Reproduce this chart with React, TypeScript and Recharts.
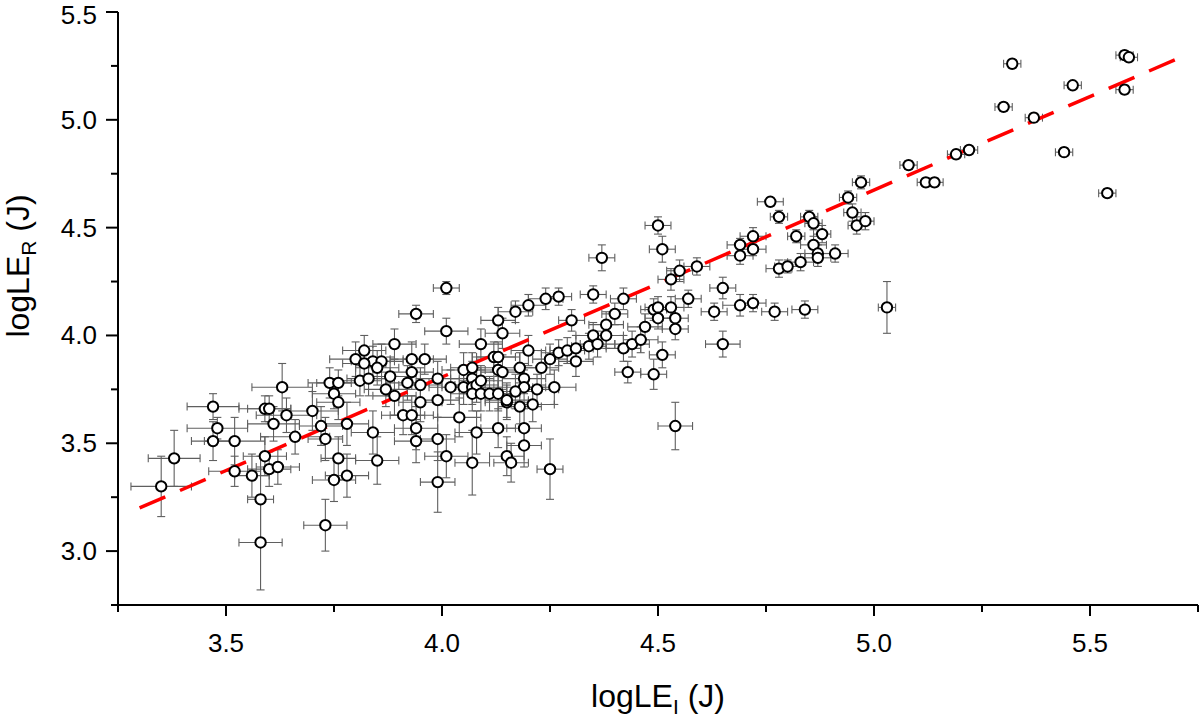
import { ScatterChart, Scatter, XAxis, YAxis, ErrorBar } from "recharts";

// logLE_I (x), logLE_R (y) and their errors
const logLEI = [
  3.35, 3.38, 3.47, 3.48, 3.47, 3.52, 3.52, 3.56, 3.58, 3.58, 3.59, 3.60, 3.62, 3.63, 3.59, 3.60,
  3.64, 3.61, 3.66, 3.70, 3.72, 3.73, 3.78, 3.76, 3.75, 3.78, 3.73, 3.74, 3.75, 3.76, 3.76,
  3.81, 3.83, 3.82, 3.80, 3.84, 3.86, 3.82, 3.85, 3.89, 3.93, 3.96, 3.93, 3.88, 3.92, 3.87, 3.89,
  3.84, 3.85, 3.91, 3.93, 3.94, 3.94, 3.95, 3.99, 3.99, 3.95, 3.94, 4.01, 4.01, 3.99, 3.99, 4.01,
  4.02, 4.04, 4.05, 4.05, 4.07, 4.07, 4.07, 4.08, 4.09, 4.07, 4.09, 4.11, 4.13, 4.15, 4.12, 4.13,
  4.13, 4.09, 4.13, 4.14, 4.08, 4.07, 4.13, 4.15, 4.16, 4.17, 4.20, 4.24, 4.27, 4.35,
  4.14, 4.18, 4.19, 4.22, 4.19, 4.17, 4.26, 4.15, 4.18, 4.21, 4.19, 4.19, 4.25,
  4.20, 4.25, 4.23, 4.27, 4.29, 4.31, 4.31, 4.34, 4.35, 4.36, 4.38, 4.38, 4.30, 4.40, 4.42,
  4.42, 4.44, 4.46, 4.47, 4.43, 4.49, 4.49, 4.50, 4.50, 4.53, 4.54, 4.54, 4.51, 4.54,
  4.37, 4.50, 4.51, 4.53, 4.55, 4.59, 4.57,
  4.63, 4.65, 4.65, 4.69, 4.72, 4.77, 4.84, 5.03, 4.69, 4.69, 4.72, 4.72, 4.76, 4.78, 4.78, 4.80,
  4.82, 4.83, 4.85, 4.86, 4.88, 4.86, 4.87, 4.87, 4.91, 4.94, 4.95, 4.96, 4.98, 4.97,
  5.08, 5.12, 5.14, 5.19, 5.22, 5.30, 5.32, 5.37, 5.44, 5.46, 5.54, 5.58, 5.58, 5.59,
];
const logLER = [
  3.30, 3.43, 3.67, 3.57, 3.51, 3.51, 3.37, 3.35, 3.24, 3.04, 3.44, 3.38, 3.39, 3.76, 3.66, 3.66,
  3.63, 3.59, 3.53, 3.65, 3.58, 3.52, 3.59, 3.43, 3.33, 3.35, 3.12, 3.78, 3.73, 3.69, 3.78,
  3.79, 3.80, 3.93, 3.89, 3.88, 3.88, 3.87, 3.85, 3.96, 3.89, 3.89, 3.83, 3.81, 3.78, 3.75, 3.72,
  3.55, 3.42, 3.63, 3.63, 3.57, 3.51, 3.69, 3.70, 3.80, 3.77, 4.10, 4.22, 4.02, 3.32, 3.52, 3.44,
  3.76, 3.62, 3.76, 3.84, 3.85, 3.80, 3.76, 3.77, 3.79, 3.73, 3.73, 3.73, 3.73, 3.69, 3.90, 3.90,
  3.84, 3.96, 4.07, 4.01, 3.55, 3.41, 3.57, 3.44, 3.41, 4.11, 4.14, 4.17, 4.18, 4.19,
  3.83, 3.85, 3.80, 3.75, 3.76, 3.74, 3.76, 3.70, 3.67, 3.68, 3.57, 3.49, 3.38,
  3.93, 3.89, 3.85, 3.92, 3.93, 3.94, 3.88, 3.95, 4.00, 3.96, 4.00, 4.05, 4.07, 4.10, 4.17,
  3.94, 3.96, 3.98, 4.04, 3.83, 3.82, 4.12, 4.08, 4.13, 4.13, 4.08, 4.03, 3.91, 3.58,
  4.36, 4.51, 4.40, 4.26, 4.30, 4.32, 4.17,
  4.11, 4.22, 3.96, 4.14, 4.15, 4.11, 4.12, 4.13, 4.37, 4.42, 4.46, 4.40, 4.62, 4.55, 4.31, 4.32,
  4.46, 4.34, 4.55, 4.52, 4.47, 4.42, 4.38, 4.36, 4.38, 4.64, 4.57, 4.51, 4.53, 4.71,
  4.79, 4.71, 4.71, 4.84, 4.86, 5.06, 5.26, 5.01, 4.85, 5.16, 4.66, 5.14, 5.30, 5.29,
];
const errI = [
  0.07, 0.06, 0.06, 0.07, 0.05, 0.07, 0.06, 0.04, 0.03, 0.05, 0.05, 0.05, 0.05, 0.07, 0.06, 0.05,
  0.07, 0.06, 0.08, 0.06, 0.05, 0.04, 0.05, 0.04, 0.05, 0.05, 0.05, 0.05, 0.05, 0.05, 0.05,
  0.05, 0.05, 0.05, 0.06, 0.05, 0.05, 0.05, 0.05, 0.05, 0.05, 0.05, 0.05, 0.05, 0.05, 0.05, 0.05,
  0.05, 0.05, 0.05, 0.05, 0.05, 0.05, 0.05, 0.05, 0.05, 0.05, 0.04, 0.03, 0.05, 0.04, 0.04, 0.05,
  0.05, 0.05, 0.05, 0.05, 0.05, 0.05, 0.05, 0.05, 0.05, 0.05, 0.05, 0.05, 0.05, 0.05, 0.05, 0.05,
  0.05, 0.05, 0.04, 0.04, 0.05, 0.04, 0.04, 0.04, 0.04, 0.04, 0.04, 0.04, 0.03, 0.03,
  0.05, 0.05, 0.05, 0.05, 0.05, 0.05, 0.05, 0.05, 0.05, 0.05, 0.04, 0.04, 0.03,
  0.04, 0.04, 0.04, 0.04, 0.04, 0.04, 0.04, 0.04, 0.04, 0.04, 0.04, 0.04, 0.03, 0.03, 0.03,
  0.04, 0.04, 0.04, 0.04, 0.03, 0.03, 0.03, 0.03, 0.03, 0.03, 0.03, 0.03, 0.03, 0.04,
  0.03, 0.03, 0.03, 0.03, 0.03, 0.03, 0.03,
  0.03, 0.03, 0.04, 0.04, 0.03, 0.03, 0.03, 0.02, 0.03, 0.03, 0.03, 0.03, 0.03, 0.02, 0.03, 0.03,
  0.02, 0.03, 0.02, 0.02, 0.02, 0.03, 0.03, 0.03, 0.03, 0.02, 0.02, 0.02, 0.02, 0.02,
  0.02, 0.02, 0.02, 0.02, 0.02, 0.02, 0.02, 0.02, 0.02, 0.02, 0.02, 0.02, 0.02, 0.02,
];
const errR = [
  0.14, 0.13, 0.06, 0.05, 0.09, 0.11, 0.07, 0.10, 0.20, 0.22, 0.09, 0.08, 0.08, 0.11, 0.06, 0.06,
  0.08, 0.08, 0.08, 0.09, 0.09, 0.10, 0.10, 0.10, 0.10, 0.10, 0.12, 0.07, 0.07, 0.08, 0.06,
  0.07, 0.08, 0.07, 0.08, 0.07, 0.08, 0.07, 0.08, 0.07, 0.08, 0.07, 0.08, 0.09, 0.08, 0.08, 0.09,
  0.10, 0.11, 0.09, 0.09, 0.10, 0.10, 0.09, 0.08, 0.08, 0.08, 0.04, 0.03, 0.06, 0.14, 0.10, 0.10,
  0.08, 0.09, 0.08, 0.08, 0.07, 0.08, 0.08, 0.08, 0.07, 0.08, 0.08, 0.08, 0.08, 0.08, 0.07, 0.07,
  0.08, 0.07, 0.06, 0.07, 0.10, 0.15, 0.09, 0.09, 0.09, 0.05, 0.05, 0.05, 0.04, 0.04,
  0.08, 0.07, 0.07, 0.07, 0.08, 0.08, 0.08, 0.08, 0.08, 0.08, 0.09, 0.10, 0.14,
  0.07, 0.07, 0.08, 0.06, 0.06, 0.06, 0.07, 0.06, 0.06, 0.06, 0.06, 0.06, 0.05, 0.05, 0.05,
  0.06, 0.06, 0.06, 0.06, 0.05, 0.07, 0.05, 0.05, 0.05, 0.05, 0.05, 0.05, 0.06, 0.11,
  0.06, 0.04, 0.06, 0.05, 0.05, 0.04, 0.04,
  0.04, 0.05, 0.06, 0.05, 0.04, 0.04, 0.04, 0.12, 0.04, 0.03, 0.04, 0.03, 0.02, 0.03, 0.04, 0.03,
  0.03, 0.04, 0.03, 0.03, 0.04, 0.04, 0.04, 0.04, 0.04, 0.03, 0.04, 0.04, 0.04, 0.03,
  0.02, 0.02, 0.02, 0.02, 0.02, 0.02, 0.02, 0.02, 0.02, 0.01, 0.02, 0.02, 0.02, 0.02,
];

// dashed linear fit, end points
const fitX = [3.3, 5.71];
const fitY = [3.2, 5.29];

const xTicks = [3.25, 3.5, 3.75, 4.0, 4.25, 4.5, 4.75, 5.0, 5.25, 5.5, 5.75];
const yTicks = [2.75, 3.0, 3.25, 3.5, 3.75, 4.0, 4.25, 4.5, 4.75, 5.0, 5.25, 5.5];

const points = logLEI.map((x, i) => ({ x, y: logLER[i], ex: errI[i], ey: errR[i] }));
const fit = fitX.map((x, i) => ({ x, y: fitY[i] }));

const FONT = "'Liberation Sans', Arial, sans-serif";

const isMajor = (v: number) => Math.abs(v * 2 - Math.round(v * 2)) < 1e-6;

function XTick({ x, y, payload }: any) {
  const major = isMajor(payload.value);
  return (
    <g>
      <line x1={x} x2={x} y1={y} y2={y + (major ? 11 : 7)} stroke="#000" strokeWidth={2} />
      {major && (
        <text x={x} y={y + 47} textAnchor="middle" fontSize={26} fontFamily={FONT} fill="#000">
          {payload.value.toFixed(1)}
        </text>
      )}
    </g>
  );
}

function YTick({ x, y, payload }: any) {
  const major = isMajor(payload.value);
  // keep the top label inside the picture
  const ty = Math.max(y + 9, 24);
  return (
    <g>
      <line x1={x - (major ? 12 : 7)} x2={x} y1={y} y2={y} stroke="#000" strokeWidth={2} />
      {major && (
        <text x={x - 21} y={ty} textAnchor="end" fontSize={26} fontFamily={FONT} fill="#000">
          {payload.value.toFixed(1)}
        </text>
      )}
    </g>
  );
}

const XTitle = () => (
  <text x={658} y={707} textAnchor="middle" fontSize={32} fontFamily={FONT} fill="#000">
    logLE<tspan fontSize={21} dy={7}>I</tspan>
    <tspan dy={-7}>{" (J)"}</tspan>
  </text>
);

const YTitle = () => (
  <text
    x={0}
    y={0}
    transform="translate(29 266) rotate(-90)"
    textAnchor="middle"
    fontSize={32}
    fontFamily={FONT}
    fill="#000"
  >
    logLE<tspan fontSize={21} dy={7}>R</tspan>
    <tspan dy={-7}>{" (J)"}</tspan>
  </text>
);

const Marker = (p: any) => (
  <circle cx={p.cx} cy={p.cy} r={5.2} fill="#fff" stroke="#000" strokeWidth={2} />
);

export default function App() {
  return (
    <div style={{ width: 1200, height: 720, background: "#fff" }}>
      <style>{"body{margin:0}"}</style>
      <ScatterChart width={1200} height={720} margin={{ top: 12, right: 2, bottom: 0, left: 0 }}>
        <XAxis
          type="number"
          dataKey="x"
          domain={[3.25, 5.75]}
          ticks={xTicks}
          interval={0}
          allowDataOverflow
          height={115}
          tickSize={0}
          tickMargin={0}
          tickLine={false}
          axisLine={{ stroke: "#000", strokeWidth: 2 }}
          tick={<XTick />}
          label={{ content: () => <XTitle /> }}
        />
        <YAxis
          type="number"
          dataKey="y"
          domain={[2.75, 5.5]}
          ticks={yTicks}
          interval={0}
          allowDataOverflow
          width={118}
          tickSize={0}
          tickMargin={0}
          tickLine={false}
          axisLine={{ stroke: "#000", strokeWidth: 2 }}
          tick={<YTick />}
          label={{ content: () => <YTitle /> }}
        />
        <Scatter
          data={fit}
          line={{ stroke: "#ff0000", strokeWidth: 3.5, strokeDasharray: "28 16" }}
          shape={() => <g />}
          isAnimationActive={false}
        />
        <Scatter data={points} shape={Marker} isAnimationActive={false}>
          <ErrorBar dataKey="ex" direction="x" width={4} stroke="#5f5f5f" strokeWidth={1.1} />
          <ErrorBar dataKey="ey" direction="y" width={4} stroke="#5f5f5f" strokeWidth={1.1} />
        </Scatter>
      </ScatterChart>
    </div>
  );
}
